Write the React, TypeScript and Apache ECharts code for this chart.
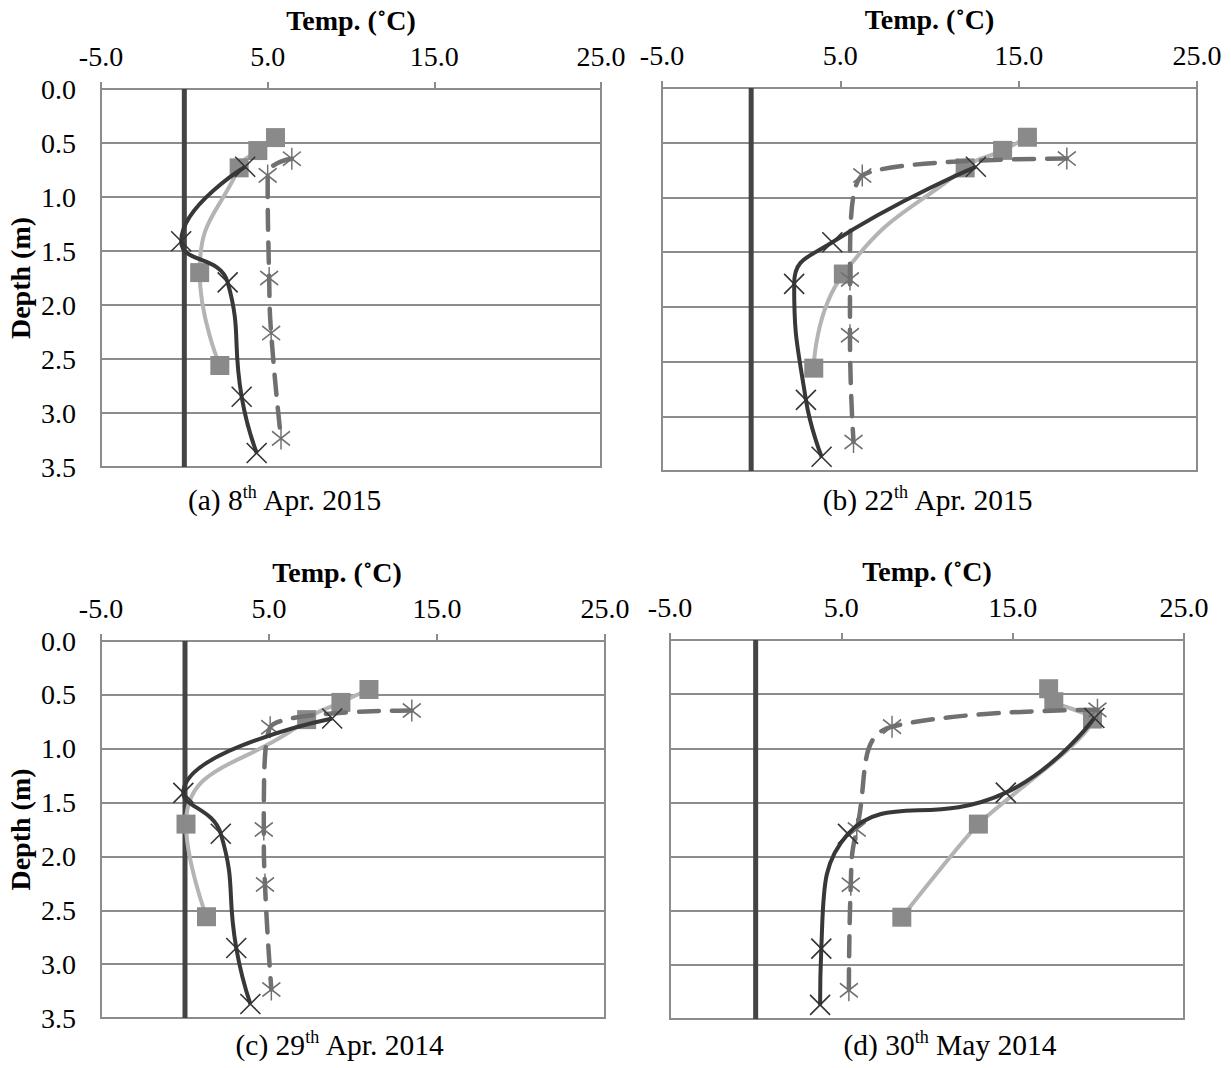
import React, { useEffect, useRef } from "react";
import * as echarts from "echarts";

// ---- data ----
const squareDepth = [0.45, 0.57, 0.73, 1.7, 2.56];
const starDepth = [0.645, 0.8, 1.75, 2.26, 3.235];
const crossDepth = [0.72, 1.41, 1.79, 2.85, 3.37];

const aSquare = [5.47, 4.41, 3.29, 0.92, 2.13];
const aStar = [6.45, 5.0, 5.09, 5.21, 5.8];
const aCross = [3.65, -0.19, 2.6, 3.44, 4.34];

const bSquare = [15.49, 14.1, 12.0, 5.17, 3.51];
const bStar = [17.7, 6.23, 5.54, 5.54, 5.74];
const bCross = [12.6, 4.55, 2.41, 3.07, 3.95];

const cSquare = [10.95, 9.28, 7.24, 0.06, 1.28];
const cStar = [13.5, 5.07, 4.69, 4.76, 5.14];
const cCross = [8.76, -0.1, 2.13, 3.05, 3.89];

const dSquare = [17.1, 17.4, 19.66, 13.0, 8.53];
const dStar = [19.95, 7.96, 5.9, 5.55, 5.44];
const dCross = [19.77, 14.6, 5.39, 3.83, 3.76];

const zeroLine = [
  [0, 0],
  [0, 3.5],
];

const captions = [
  ["(a) 8", "th", " Apr. 2015"],
  ["(b) 22", "th", " Apr. 2015"],
  ["(c) 29", "th", " Apr. 2014"],
  ["(d) 30", "th", " May 2014"],
];

const xTitle = "Temp. (˚C)";
const yTitle = "Depth (m)";

// ---- layout ----
const FONT = '"Liberation Serif", "Times New Roman", serif';
const GRID = [
  { left: 101, top: 89, width: 500, height: 378 },
  { left: 662, top: 88, width: 535, height: 383 },
  { left: 101, top: 641, width: 504, height: 377 },
  { left: 670, top: 640, width: 514, height: 379 },
];
const CAPTION_POS = [
  [285, 499],
  [928, 499],
  [340, 1044],
  [950, 1044],
];

const pair = (t: number[], d: number[]) => t.map((v, i) => [v, d[i]]);

const XSYM = "path://M0,0L10,10M10,0L0,10";
const STARSYM = "path://M5,0L5,10M0,1.8L10,8.2M10,1.8L0,8.2";

export default function App() {
  const ref = useRef<HTMLDivElement>(null);
  useEffect(() => {
    if (!ref.current) return;
    const chart = echarts.init(ref.current, undefined, { renderer: "svg" });
    const panels = [
      [aSquare, aStar, aCross],
      [bSquare, bStar, bCross],
      [cSquare, cStar, cCross],
      [dSquare, dStar, dCross],
    ];
    const grid: any[] = [];
    const xAxis: any[] = [];
    const yAxis: any[] = [];
    const series: any[] = [];
    panels.forEach((p, i) => {
      const showY = i === 0 || i === 2;
      grid.push({
        ...GRID[i],
        show: true,
        borderColor: "#8c8c8c",
        borderWidth: 2,
        backgroundColor: "transparent",
        containLabel: false,
        outerBoundsMode: "none",
      });
      xAxis.push({
        gridIndex: i,
        type: "value",
        position: "top",
        min: -5,
        max: 25,
        interval: 10,
        name: xTitle,
        nameLocation: "middle",
        nameGap: 55,
        nameTextStyle: {
          fontFamily: FONT,
          fontWeight: "bold",
          fontSize: 28,
          color: "#000",
          padding: i === 2 ? [0, 32, 0, 0] : 0,
        },
        axisLine: { show: true, lineStyle: { color: "#8c8c8c", width: 2 } },
        axisTick: { show: true, inside: false, length: 7, lineStyle: { color: "#8c8c8c", width: 2 } },
        axisLabel: {
          formatter: (v: number) => v.toFixed(1),
          fontFamily: FONT,
          fontSize: 28,
          color: "#000",
          margin: 19,
        },
        splitLine: { show: false },
      });
      yAxis.push({
        gridIndex: i,
        type: "value",
        inverse: true,
        min: 0,
        max: 3.5,
        interval: 0.5,
        name: showY ? yTitle : "",
        nameLocation: "middle",
        nameGap: 67,
        nameRotate: 90,
        nameTextStyle: { fontFamily: FONT, fontWeight: "bold", fontSize: 28, color: "#000" },
        axisLine: { show: true, lineStyle: { color: "#8c8c8c", width: 2 } },
        axisTick: { show: showY, inside: false, length: 8, lineStyle: { color: "#8c8c8c", width: 2 } },
        axisLabel: {
          show: showY,
          formatter: (v: number) => v.toFixed(1),
          fontFamily: FONT,
          fontSize: 28,
          color: "#000",
          margin: 25,
        },
        splitLine: { show: true, lineStyle: { color: "#8c8c8c", width: 2 } },
      });
      series.push({
        type: "line",
        xAxisIndex: i,
        yAxisIndex: i,
        data: zeroLine,
        symbol: "none",
        lineStyle: { color: "#444", width: 5 },
        silent: true,
        z: 1,
      });
      series.push({
        type: "line",
        xAxisIndex: i,
        yAxisIndex: i,
        data: pair(p[0], squareDepth),
        smooth: i === 3 ? 0.2 : 0.5,
        symbol: "rect",
        symbolSize: 19,
        itemStyle: { color: "#8a8a8a" },
        lineStyle: { color: "#b4b4b4", width: 4 },
        z: 2,
      });
      series.push({
        type: "line",
        xAxisIndex: i,
        yAxisIndex: i,
        data: pair(p[1], starDepth),
        smooth: 0.5,
        symbol: STARSYM,
        symbolSize: [18, 22],
        symbolKeepAspect: false,
        itemStyle: { color: "rgba(0,0,0,0)", borderColor: "#707070", borderWidth: 1.6 },
        lineStyle: { color: "#707070", width: 4.5, type: [20, 13], cap: "round" },
        z: 3,
      });
      series.push({
        type: "line",
        xAxisIndex: i,
        yAxisIndex: i,
        data: pair(p[2], crossDepth),
        smooth: 0.5,
        symbol: XSYM,
        symbolSize: 20,
        itemStyle: { color: "rgba(0,0,0,0)", borderColor: "#333", borderWidth: 1.6 },
        lineStyle: { color: "#383838", width: 4 },
        z: 4,
      });
    });

    const graphic = captions.map((c, i) => ({
      type: "text",
      x: CAPTION_POS[i][0],
      y: CAPTION_POS[i][1],
      style: {
        text: `{n|${c[0]}}{s|${c[1]}}{n|${c[2]}}`,
        align: "center",
        verticalAlign: "middle",
        rich: {
          n: { fontFamily: FONT, fontSize: 29.5, color: "#000", lineHeight: 32, verticalAlign: "bottom" },
          s: { fontFamily: FONT, fontSize: 18, color: "#000", lineHeight: 32, verticalAlign: "top" },
        },
      },
    }));

    chart.setOption({
      animation: false,
      backgroundColor: "#fff",
      grid,
      xAxis,
      yAxis,
      series,
      graphic,
    });
    return () => chart.dispose();
  }, []);
  return (
    <div
      ref={ref}
      style={{ position: "absolute", left: 0, top: 0, width: 1231, height: 1068 }}
    />
  );
}
